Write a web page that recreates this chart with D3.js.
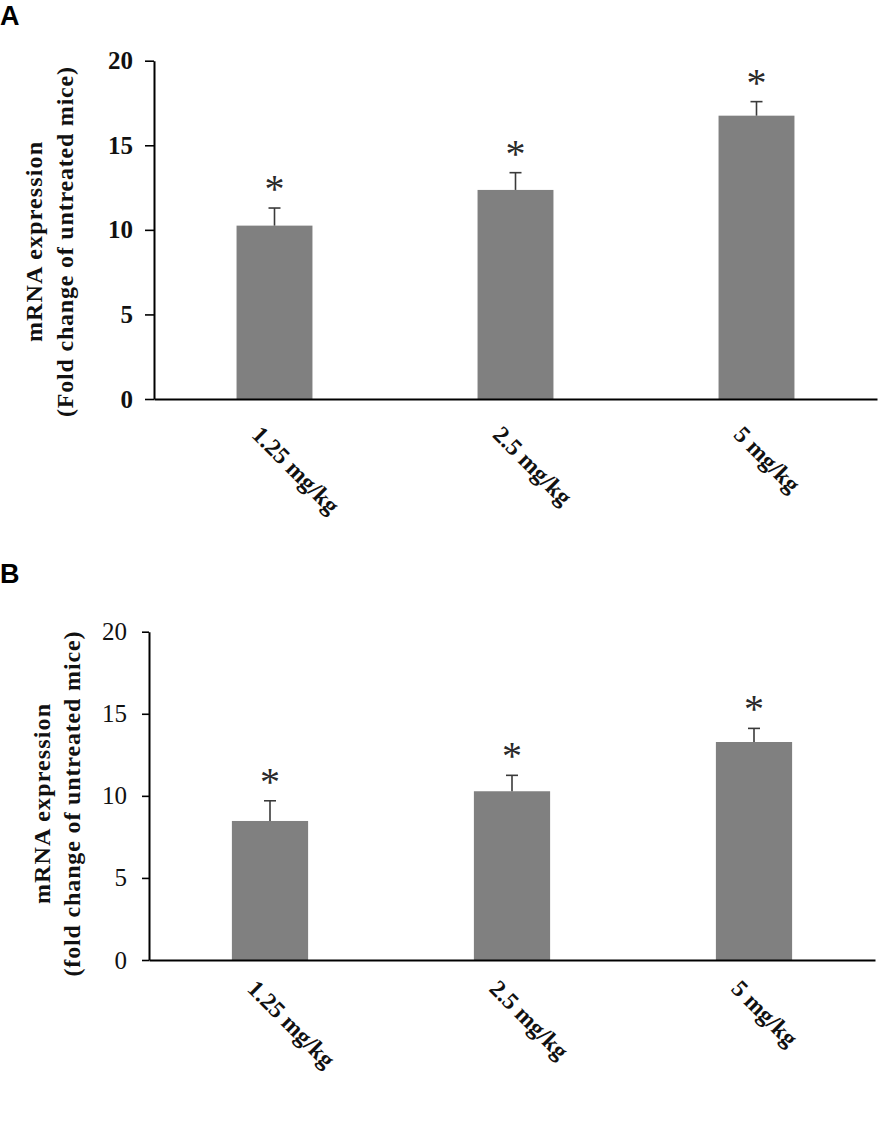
<!DOCTYPE html>
<html>
<head>
<meta charset="utf-8">
<script src="https://cdn.jsdelivr.net/npm/d3@7"></script>
<style>
  html, body { margin: 0; padding: 0; background: #ffffff; }
  svg { display: block; }
</style>
</head>
<body>
<svg id="chart" width="885" height="1133"></svg>
<script>
// ---------------- data ----------------
const categories = ["1.25 mg/kg", "2.5 mg/kg", "5 mg/kg"];
const yTickValues = [0, 5, 10, 15, 20];
const yDomain = [0, 20];

const panelA_means = [10.25, 12.36, 16.75];
const panelA_errors = [1.04, 1.02, 0.83];
const panelA_title = ["mRNA expression", "(Fold change of untreated mice)"];

const panelB_means = [8.47, 10.28, 13.28];
const panelB_errors = [1.23, 0.97, 0.83];
const panelB_title = ["mRNA expression", "(fold change of untreated mice)"];

const significance = ["*", "*", "*"];

// ---------------- drawing ----------------
const svg = d3.select("#chart");
const serif = "'Liberation Serif', 'Times New Roman', Times, serif";
const sans = "'Liberation Sans', Arial, Helvetica, sans-serif";

function drawPanel(opt) {
  const x = d3.scaleBand()
    .domain(categories)
    .range([opt.left, opt.right])
    .paddingInner(0.685)
    .paddingOuter(0.3425);
  const y = d3.scaleLinear().domain(yDomain).range([opt.bottom, opt.top]);

  const g = svg.append("g");

  // panel letter
  g.append("text")
    .attr("x", 0).attr("y", opt.letterY)
    .attr("font-family", sans).attr("font-weight", "bold")
    .attr("font-size", 27).attr("fill", "#000")
    .text(opt.letter);

  const rows = categories.map((c, i) => ({ c, m: opt.means[i], e: opt.errors[i], s: significance[i] }));

  // bars
  g.selectAll("rect.bar").data(rows).join("rect")
    .attr("class", "bar")
    .attr("x", d => x(d.c))
    .attr("y", d => y(d.m))
    .attr("width", x.bandwidth())
    .attr("height", d => y(0) - y(d.m))
    .attr("fill", "#808080");

  // error bars (upper)
  const cx = d => x(d.c) + x.bandwidth() / 2;
  g.selectAll("line.err").data(rows).join("line")
    .attr("class", "err")
    .attr("x1", cx).attr("x2", cx)
    .attr("y1", d => y(d.m)).attr("y2", d => y(d.m + d.e))
    .attr("stroke", "#3a3a3a").attr("stroke-width", 1.6);
  g.selectAll("line.cap").data(rows).join("line")
    .attr("class", "cap")
    .attr("x1", d => cx(d) - 6).attr("x2", d => cx(d) + 6)
    .attr("y1", d => y(d.m + d.e)).attr("y2", d => y(d.m + d.e))
    .attr("stroke", "#3a3a3a").attr("stroke-width", 1.6);

  // asterisks
  g.selectAll("text.sig").data(rows).join("text")
    .attr("class", "sig")
    .attr("x", cx)
    .attr("y", d => y(d.m + d.e) - 25 + 19)
    .attr("text-anchor", "middle")
    .attr("font-family", serif).attr("font-size", 40)
    .attr("fill", "#2a2a2a")
    .text(d => d.s);

  // y axis
  const yAxis = g.append("g")
    .attr("transform", `translate(${opt.left},0)`)
    .call(d3.axisLeft(y).tickValues(yTickValues).tickFormat(d3.format("d"))
      .tickSize(opt.tickLen).tickSizeOuter(0).tickPadding(opt.tickPad));
  yAxis.select(".domain").attr("stroke", "#000").attr("stroke-width", 2);
  yAxis.selectAll(".tick line").attr("stroke", "#000").attr("stroke-width", 1.6);
  yAxis.selectAll(".tick text")
    .attr("font-family", serif).attr("font-size", 25)
    .attr("font-weight", opt.tickBold ? "bold" : "normal")
    .attr("fill", "#111");

  // x axis
  const xAxis = g.append("g")
    .attr("transform", `translate(0,${opt.bottom})`)
    .call(d3.axisBottom(x).tickSize(0).tickSizeOuter(0));
  xAxis.select(".domain").attr("stroke", "#000").attr("stroke-width", 2.2);
  xAxis.selectAll(".tick text")
    .attr("font-family", serif).attr("font-size", 24).attr("font-weight", "bold")
    .attr("fill", "#111")
    .attr("text-anchor", "start")
    .attr("dy", null)
    .attr("y", 0)
    .attr("transform", `translate(-24,${opt.labelDy}) rotate(45)`);

  // y title (two lines)
  [[opt.title1X, opt.title[0], opt.title1Len], [opt.title2X, opt.title[1], opt.title2Len]]
    .forEach(([tx, txt, len]) => {
      g.append("text")
        .attr("transform", `translate(${tx},${opt.titleY}) rotate(-90)`)
        .attr("font-family", serif).attr("font-weight", "bold").attr("font-size", 24)
        .attr("fill", "#111").attr("text-anchor", "middle")
        .attr("textLength", len).attr("lengthAdjust", "spacing")
        .text(txt);
    });
}

drawPanel({
  letter: "A", letterY: 25,
  left: 154, right: 877, top: 60.7, bottom: 399,
  means: panelA_means, errors: panelA_errors, title: panelA_title,
  tickLen: 9, tickPad: 12, tickBold: true, labelDy: 37,
  title1X: 42, title2X: 73, titleY: 242, title1Len: 200, title2Len: 350
});

drawPanel({
  letter: "B", letterY: 583,
  left: 149, right: 875, top: 631.7, bottom: 960,
  means: panelB_means, errors: panelB_errors, title: panelB_title,
  tickLen: 7, tickPad: 15, tickBold: false, labelDy: 30,
  title1X: 50, title2X: 80, titleY: 804, title1Len: 200, title2Len: 345
});
</script>
</body>
</html>
